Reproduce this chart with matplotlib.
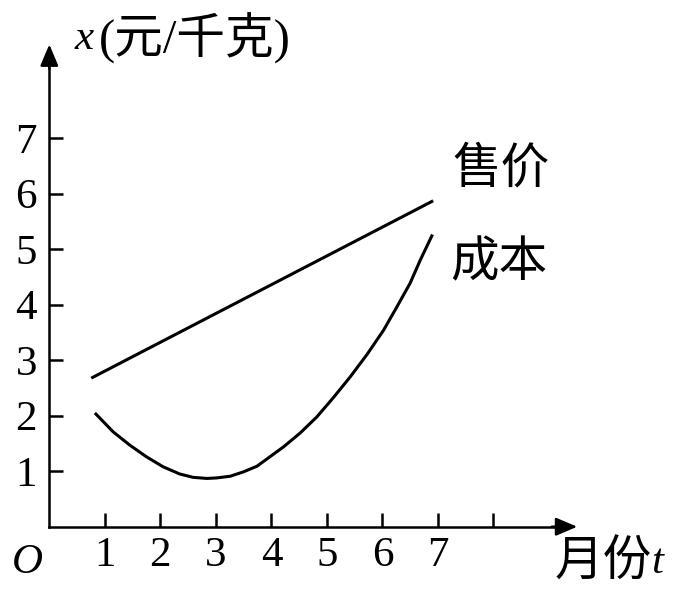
import numpy as np
import matplotlib
matplotlib.use("Agg")
import matplotlib.pyplot as plt

plt.rcParams['font.family'] = ['Liberation Serif', 'Noto Sans CJK SC', 'DejaVu Sans']

# values
price_t = [0.78, 6.89]
price_x = [2.69, 5.86]

cost_t = [0.84, 1.15, 1.45, 1.75, 2.05, 2.35, 2.59, 2.84, 3.02, 3.26, 3.50, 3.74, 4.22, 4.52,
          4.82, 5.12, 5.42, 5.72, 6.02, 6.26, 6.50, 6.68, 6.89]
cost_x = [2.03, 1.71, 1.47, 1.26, 1.08, 0.95, 0.89, 0.87, 0.88, 0.91, 0.99, 1.09, 1.44, 1.69,
          1.98, 2.33, 2.70, 3.10, 3.54, 3.96, 4.39, 4.80, 5.24]

x_ticks = [1, 2, 3, 4, 5, 6, 7, 8]
x_labels = ['1', '2', '3', '4', '5', '6', '7', '']
y_ticks = [1, 2, 3, 4, 5, 6, 7]

fig = plt.figure(figsize=(6.75, 6), dpi=100)
ax = fig.add_axes([0, 0, 1, 1])
ax.set_xlim(-0.888, 11.27)
ax.set_ylim(-1.32, 9.49)

ax.plot(price_t, price_x, color='black', lw=2.2)
ax.plot(cost_t, cost_x, color='black', lw=2.2, solid_joinstyle='round')

for side in ['top', 'right']:
    ax.spines[side].set_visible(False)
ax.spines['left'].set_position(('data', 0))
ax.spines['bottom'].set_position(('data', 0))
ax.spines['left'].set_bounds(0, 8.5)
ax.spines['bottom'].set_bounds(0, 9.3)
ax.spines['left'].set_linewidth(1.8)
ax.spines['bottom'].set_linewidth(1.8)

ax.annotate('', xy=(9.56, 0), xytext=(9.0, 0),
            arrowprops=dict(arrowstyle='-|>,head_length=1.3,head_width=0.55', color='black', lw=1.8))
ax.annotate('', xy=(0, 8.74), xytext=(0, 8.2),
            arrowprops=dict(arrowstyle='-|>,head_length=1.3,head_width=0.55', color='black', lw=1.8))

ax.set_xticks(x_ticks)
ax.set_xticklabels(x_labels)
ax.set_yticks(y_ticks)
ax.tick_params(direction='in', length=10, width=1.8, labelsize=31)
ax.tick_params(axis='x', pad=7)
ax.tick_params(axis='y', pad=9)

ax.text(-0.40, -0.65, 'O', fontsize=31, style='italic', ha='center', va='center')
ax.text(9.11, -0.65, '月份', fontsize=35, ha='left', va='center')
ax.text(10.84, -0.65, 't', fontsize=31, style='italic', ha='left', va='center')
ax.text(0.46, 8.80, 'x', fontsize=31, style='italic', ha='left', va='center')
ax.text(0.89, 8.80, '(元/千克)', fontsize=35, ha='left', va='center')
ax.text(8.14, 6.43, '售价', fontsize=35, ha='center', va='center')
ax.text(8.10, 4.75, '成本', fontsize=35, ha='center', va='center')

fig.savefig('out.png', dpi=100)
